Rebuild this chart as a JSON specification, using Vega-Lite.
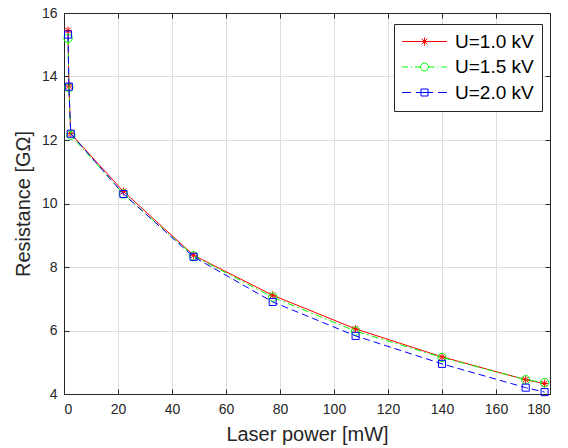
{
  "$schema": "https://vega.github.io/schema/vega-lite/v6.json",
  "width": 486,
  "height": 381,
  "autosize": "none",
  "padding": {"left": 64, "top": 13, "right": 18, "bottom": 54},
  "background": "white",
  "config": {
    "font": "Liberation Sans",
    "view": {"stroke": "#262626", "strokeWidth": 1},
    "axis": {
      "domainColor": "#262626",
      "tickColor": "#262626",
      "tickSize": -5,
      "labelFont": "Liberation Sans",
      "labelFontSize": 14,
      "labelColor": "#262626",
      "titleFont": "Liberation Sans",
      "titleFontSize": 20,
      "titleFontWeight": "normal",
      "titleColor": "#262626",
      "gridColor": "#dfdfdf",
      "gridOpacity": 1
    }
  },
  "data": {
    "values": [
      {"series": "U=1.0 kV", "power": 1.5, "resistance": 15.45},
      {"series": "U=1.0 kV", "power": 1.8, "resistance": 13.7},
      {"series": "U=1.0 kV", "power": 2.5, "resistance": 12.2},
      {"series": "U=1.0 kV", "power": 22, "resistance": 10.38},
      {"series": "U=1.0 kV", "power": 48, "resistance": 8.37},
      {"series": "U=1.0 kV", "power": 77.3, "resistance": 7.11},
      {"series": "U=1.0 kV", "power": 108, "resistance": 6.05},
      {"series": "U=1.0 kV", "power": 140, "resistance": 5.17},
      {"series": "U=1.0 kV", "power": 171, "resistance": 4.45},
      {"series": "U=1.0 kV", "power": 178, "resistance": 4.33},
      {"series": "U=1.5 kV", "power": 1.5, "resistance": 15.2},
      {"series": "U=1.5 kV", "power": 1.8, "resistance": 13.65},
      {"series": "U=1.5 kV", "power": 2.5, "resistance": 12.15},
      {"series": "U=1.5 kV", "power": 22, "resistance": 10.3},
      {"series": "U=1.5 kV", "power": 48, "resistance": 8.35},
      {"series": "U=1.5 kV", "power": 77.3, "resistance": 7.05},
      {"series": "U=1.5 kV", "power": 108, "resistance": 5.98},
      {"series": "U=1.5 kV", "power": 140, "resistance": 5.15},
      {"series": "U=1.5 kV", "power": 171, "resistance": 4.45},
      {"series": "U=1.5 kV", "power": 178, "resistance": 4.36},
      {"series": "U=2.0 kV", "power": 1.5, "resistance": 15.32},
      {"series": "U=2.0 kV", "power": 1.8, "resistance": 13.68},
      {"series": "U=2.0 kV", "power": 2.5, "resistance": 12.2},
      {"series": "U=2.0 kV", "power": 22, "resistance": 10.3},
      {"series": "U=2.0 kV", "power": 48, "resistance": 8.32},
      {"series": "U=2.0 kV", "power": 77.3, "resistance": 6.9},
      {"series": "U=2.0 kV", "power": 108, "resistance": 5.83},
      {"series": "U=2.0 kV", "power": 140, "resistance": 4.95},
      {"series": "U=2.0 kV", "power": 171, "resistance": 4.2},
      {"series": "U=2.0 kV", "power": 178, "resistance": 4.06}
    ]
  },
  "layer": [
    {
      "encoding": {
        "x": {
          "field": "power", "type": "quantitative",
          "scale": {"domain": [0, 180], "nice": false, "zero": false},
          "axis": {"orient": "bottom", "values": [0, 20, 40, 60, 80, 100, 120, 140, 160, 180], "grid": true, "labelPadding": 13, "title": "Laser power [mW]", "titlePadding": 8}
        },
        "y": {
          "field": "resistance", "type": "quantitative",
          "scale": {"domain": [4, 16], "nice": false, "zero": false},
          "axis": {"orient": "left", "values": [4, 6, 8, 10, 12, 14, 16], "grid": true, "labelPadding": 12, "title": "Resistance [GΩ]", "titlePadding": 8}
        }
      },
      "layer": [
        {
          "transform": [{"filter": "datum.series === 'U=1.0 kV'"}],
          "mark": {"type": "line", "color": "#ff0000", "strokeWidth": 1}
        },
        {
          "transform": [{"filter": "datum.series === 'U=1.0 kV'"}],
          "mark": {"type": "point", "color": "#ff0000", "filled": false, "strokeWidth": 1, "opacity": 1, "size": 64, "shape": "M0,-1V1M-1,0H1M-0.7,-0.7L0.7,0.7M-0.7,0.7L0.7,-0.7"}
        },
        {
          "transform": [{"filter": "datum.series === 'U=1.5 kV'"}],
          "mark": {"type": "line", "color": "#00ff00", "strokeWidth": 1, "strokeDash": [7, 3, 2, 3]}
        },
        {
          "transform": [{"filter": "datum.series === 'U=1.5 kV'"}],
          "mark": {"type": "point", "color": "#00ff00", "filled": false, "strokeWidth": 1, "opacity": 1, "size": 70, "shape": "circle"}
        },
        {
          "transform": [{"filter": "datum.series === 'U=2.0 kV'"}],
          "mark": {"type": "line", "color": "#0000ff", "strokeWidth": 1, "strokeDash": [7, 4]}
        },
        {
          "transform": [{"filter": "datum.series === 'U=2.0 kV'"}],
          "mark": {"type": "point", "color": "#0000ff", "filled": false, "strokeWidth": 1, "opacity": 1, "size": 50, "shape": "square"}
        }
      ]
    },
    {
      "mark": {"type": "point", "filled": false, "opacity": 0},
      "encoding": {
        "x": {
          "field": "power", "type": "quantitative",
          "scale": {"domain": [0, 180], "nice": false, "zero": false},
          "axis": {"orient": "top", "values": [0, 20, 40, 60, 80, 100, 120, 140, 160, 180], "labels": false, "grid": false, "title": null}
        },
        "y": {
          "field": "resistance", "type": "quantitative",
          "scale": {"domain": [4, 16], "nice": false, "zero": false},
          "axis": {"orient": "right", "values": [4, 6, 8, 10, 12, 14, 16], "labels": false, "grid": false, "title": null}
        },
        "color": {
          "field": "series", "type": "nominal",
          "scale": {"domain": ["U=1.0 kV", "U=1.5 kV", "U=2.0 kV"], "range": ["#ff0000", "#00ff00", "#0000ff"]},
          "legend": {
            "orient": "none", "legendX": 330, "legendY": 11,
            "title": null,
            "fillColor": "white", "strokeColor": "#262626",
            "padding": 8, "rowPadding": 5.5,
            "labelFont": "Liberation Sans", "labelFontSize": 19, "labelColor": "#000000",
            "labelOffset": 34,
            "labelExpr": "datum.label + '\u00a0\u00a0'",
            "symbolSize": 100, "symbolStrokeWidth": 1, "symbolOpacity": 1,
            "symbolFillColor": "transparent"
          }
        },
        "shape": {
          "field": "series", "type": "nominal",
          "scale": {
            "domain": ["U=1.0 kV", "U=1.5 kV", "U=2.0 kV"],
            "range": [
              "M-1.9,0H7.1M2.6,-0.8V0.8M1.8,0H3.4M2.03,-0.57L3.17,0.57M2.03,0.57L3.17,-0.57",
              "M-1.9,0H-0.7M-0.1,0H0.1M0.7,0H1.8M3.4,0A0.8,0.8 0 1 1 1.8,0A0.8,0.8 0 1 1 3.4,0M3.4,0H4.6M5.2,0H5.4M6,0H7.1",
              "M-1.9,0H-0.1M0.9,0H4.3M1.9,-0.7H3.3V0.7H1.9ZM5.3,0H7.1"
            ]
          },
          "legend": {
            "orient": "none", "legendX": 330, "legendY": 11,
            "title": null,
            "fillColor": "white", "strokeColor": "#262626",
            "padding": 8, "rowPadding": 5.5,
            "labelFont": "Liberation Sans", "labelFontSize": 19, "labelColor": "#000000",
            "labelOffset": 34,
            "labelExpr": "datum.label + '\u00a0\u00a0'",
            "symbolSize": 100, "symbolStrokeWidth": 1, "symbolOpacity": 1,
            "symbolFillColor": "transparent"
          }
        }
      }
    }
  ],
  "resolve": {"scale": {"x": "independent", "y": "independent"}}
}
